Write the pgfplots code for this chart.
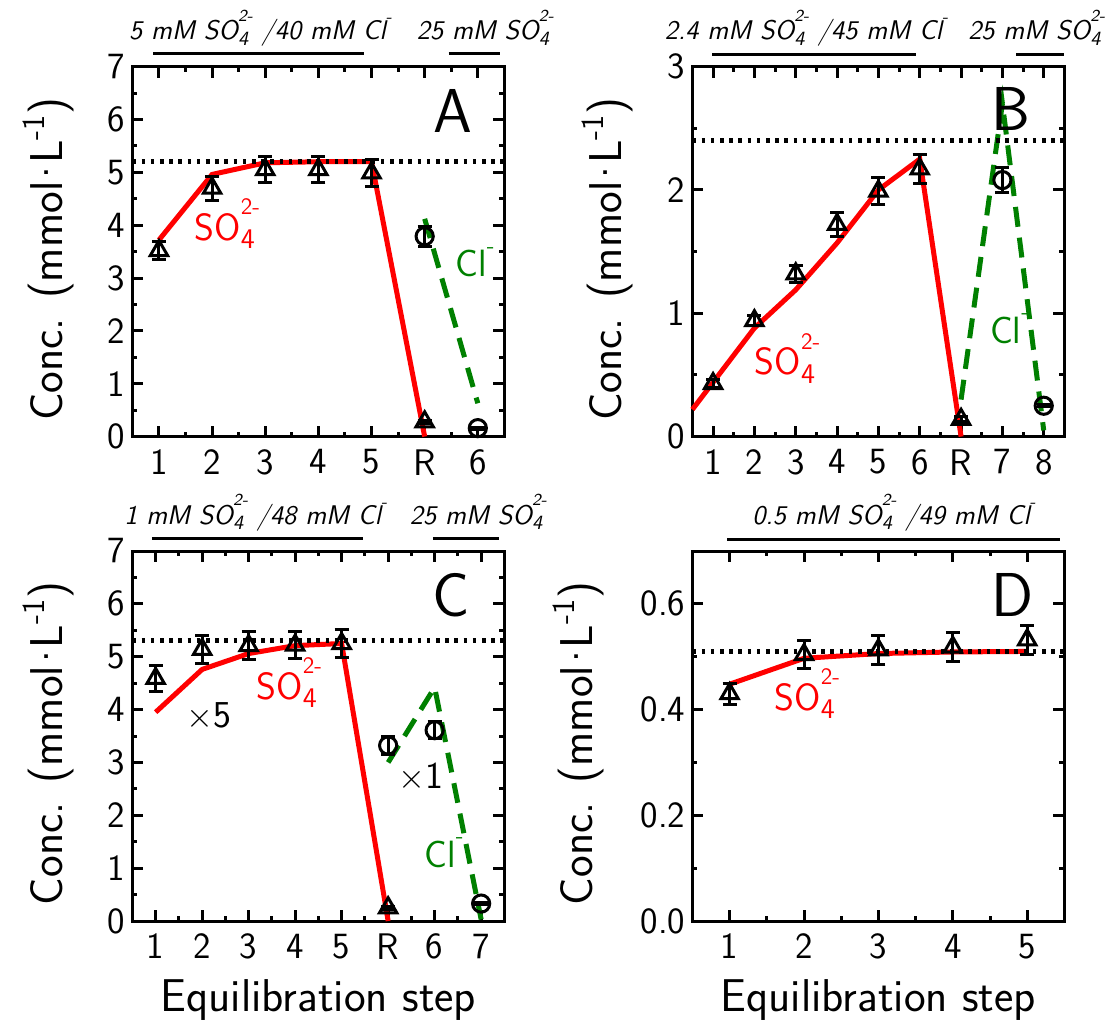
\documentclass[border=0pt]{standalone}
\usepackage{pgfplots}
\pgfplotsset{compat=1.18}
\renewcommand{\familydefault}{\sfdefault}
\definecolor{dgreen}{RGB}{0,128,0}
\makeatletter
\newcommand\relsz[2]{{\dimen@=\f@size pt\dimen@=#1\dimen@\fontsize{\strip@pt\dimen@}{\strip@pt\dimen@}\selectfont #2}}
\makeatother
\newcommand{\SOf}{SO\rlap{\raisebox{-0.22em}{\relsz{0.75}{4}}}\raisebox{0.68em}{\relsz{0.62}{2-}}}
\newcommand{\Clm}{Cl\raisebox{0.62em}{\relsz{0.62}{-}}}
\pgfplotsset{
  panel/.style={
    scale only axis, width=186pt, height=185pt,
    clip=false,
    axis line style={line width=1.5pt},
    tick style={line width=1.5pt, black},
    major tick length=5.5pt, minor tick length=2.5pt,
    tick align=inside,
    minor x tick num=1, minor y tick num=1,
    ticklabel style={font=\fontsize{18.5}{18.5}\selectfont},
    xticklabel style={yshift=-3pt},
    /pgf/number format/assume math mode=true,
    label style={font=\fontsize{23}{23}\selectfont},
    xlabel style={yshift=-3pt},
    ylabel={Conc. (mmol\kern-0.17em\textperiodcentered\kern-0.17em L\textsuperscript{-1})},
  },
  ylab/.style={ylabel style={at={(axis description cs:#1,0.48)}, anchor=center}},
  model/.style={red, line width=2.5pt},
  cl/.style={dgreen, line width=2.5pt, dash pattern=on 10pt off 5.5pt},
  ref/.style={black, line width=2.4pt, dash pattern=on 1.8pt off 2.8pt},
  tri/.style={black, only marks, mark=triangle, mark size=5pt, mark options={line width=1.5pt},
    error bars/.cd, y dir=both, y explicit, error bar style={line width=1.5pt},
    error mark options={rotate=90, mark size=3.5pt, line width=1.5pt}},
  circ/.style={black, only marks, mark=o, mark size=4.3pt, mark options={line width=1.5pt},
    error bars/.cd, y dir=both, y explicit, error bar style={line width=1.5pt},
    error mark options={rotate=90, mark size=3.5pt, line width=1.5pt}},
}
\tikzset{
  lab/.style={font=\fontsize{19}{19}\selectfont, anchor=base west},
  big/.style={font=\fontsize{31}{31}\selectfont, anchor=base east},
  ann/.style={font=\fontsize{13.5}{13.5}\selectfont\itshape, anchor=base},
  bar/.style={line width=1.5pt},
}
\begin{document}
\begin{tikzpicture}
\useasboundingbox (0,0) rectangle (554pt,514.5pt);
% Panel A
\begin{axis}[panel, ylab=-0.225, at={(66.2pt,296.2pt)}, anchor=south west,
  xmin=0.5, xmax=7.5, ymin=0, ymax=7,
  xtick={1,2,3,4,5,6,7}, xticklabels={1,2,3,4,5,R,6}, ytick={0,1,...,7}]
\addplot[model] coordinates {(1,3.72) (2,4.96) (3,5.18) (4,5.2) (5,5.2) (6,0)};
\addplot[cl] coordinates {(6,4.12) (7,0.63)};
\addplot[ref] coordinates {(0.5,5.2) (7.5,5.2)};
\addplot[tri] coordinates {(1,3.52) +- (0,0.17) (2,4.70) +- (0,0.23) (3,5.05) +- (0,0.25) (4,5.05) +- (0,0.25) (5,4.99) +- (0,0.25) (6,0.28) +- (0,0.03)};
\addplot[circ] coordinates {(6,3.79) +- (0,0.19) (7,0.16) +- (0,0.02)};
\node[lab, red] at (axis cs:1.54,3.71) {\SOf};
\node[lab, dgreen] at (axis cs:6.45,3.02) {\Clm};
\node[big] at (axis cs:7.02,5.75) {A};
\node[ann] at (axis cs:2.91,7.51) {5 mM \SOf\ /40 mM \Clm};
\node[ann] at (axis cs:7.14,7.51) {25 mM \SOf};
\draw[bar] (axis cs:0.89,7.24) -- (axis cs:4.85,7.24);
\draw[bar] (axis cs:6.45,7.24) -- (axis cs:7.41,7.24);
\end{axis}
% Panel B
\begin{axis}[panel, ylab=-0.229, at={(346.2pt,296.2pt)}, anchor=south west,
  xmin=0.5, xmax=9.5, ymin=0, ymax=3,
  xtick={1,...,9}, xticklabels={1,2,3,4,5,6,R,7,8}, ytick={0,1,2,3}]
\addplot[model] coordinates {(0.5,0.22) (1,0.44) (2,0.88) (3,1.19) (4,1.57) (5,2.0) (6,2.25) (7,0)};
\addplot[cl] coordinates {(7,0.30) (8,2.70) (9,0.05)};
\addplot[ref] coordinates {(0.5,2.40) (9.5,2.40)};
\addplot[tri] coordinates {(1,0.43) +- (0,0.03) (2,0.94) +- (0,0.04) (3,1.32) +- (0,0.07) (4,1.72) +- (0,0.095) (5,1.99) +- (0,0.11) (6,2.17) +- (0,0.115) (7,0.14) +- (0,0.02)};
\addplot[circ] coordinates {(8,2.08) +- (0,0.10) (9,0.25) +- (0,0.01)};
\node[lab, red] at (axis cs:1.84,0.50) {\SOf};
\node[lab, dgreen] at (axis cs:7.53,0.755) {\Clm};
\node[big] at (axis cs:8.85,2.48) {B};
\node[ann] at (axis cs:3.26,3.22) {2.4 mM \SOf\ /45 mM \Clm};
\node[ann] at (axis cs:8.83,3.22) {25 mM \SOf};
\draw[bar] (axis cs:0.98,3.1) -- (axis cs:5.92,3.1);
\draw[bar] (axis cs:8.33,3.1) -- (axis cs:9.49,3.1);
\end{axis}
% Panel C
\begin{axis}[panel, ylab=-0.225, at={(66.2pt,54pt)}, anchor=south west,
  xmin=0.5, xmax=8.5, ymin=0, ymax=7,
  xtick={1,...,8}, xticklabels={1,2,3,4,5,R,6,7}, ytick={0,1,...,7},
  xlabel={Equilibration step}]
\addplot[model] coordinates {(1,3.95) (2,4.76) (3,5.06) (4,5.21) (5,5.25) (6,0)};
\addplot[cl] coordinates {(6,3.0) (7,4.42) (8,0.03)};
\addplot[ref] coordinates {(0.5,5.3) (8.5,5.3)};
\addplot[tri] coordinates {(1,4.59) +- (0,0.24) (2,5.14) +- (0,0.26) (3,5.21) +- (0,0.26) (4,5.22) +- (0,0.26) (5,5.25) +- (0,0.27) (6,0.25) +- (0,0.03)};
\addplot[circ] coordinates {(6,3.32) +- (0,0.17) (7,3.61) +- (0,0.16) (8,0.33) +- (0,0.02)};
\node[lab, red] at (axis cs:3.02,4.19) {\SOf};
\node[lab, black] at (axis cs:1.52,3.66) {$\times$5};
\node[lab, black] at (axis cs:6.08,2.50) {$\times$1};
\node[lab, dgreen] at (axis cs:6.63,1.02) {\Clm};
\node[big] at (axis cs:7.9,5.77) {C};
\node[ann] at (axis cs:3.15,7.51) {1 mM \SOf\ /48 mM \Clm};
\node[ann] at (axis cs:7.94,7.51) {25 mM \SOf};
\draw[bar] (axis cs:0.92,7.24) -- (axis cs:5.46,7.24);
\draw[bar] (axis cs:6.96,7.24) -- (axis cs:8.39,7.24);
\end{axis}
% Panel D
\begin{axis}[panel, ylab=-0.307, at={(346.2pt,54pt)}, anchor=south west,
  xmin=0.5, xmax=5.5, ymin=0, ymax=0.7,
  xtick={1,...,5}, ytick={0,0.2,0.4,0.6},
  yticklabel style={/pgf/number format/.cd, fixed, fixed zerofill, precision=1},
  xlabel={Equilibration step}]
\addplot[model] coordinates {(1,0.448) (2,0.497) (3,0.506) (4,0.509) (5,0.51)};
\addplot[ref] coordinates {(0.5,0.51) (5.5,0.51)};
\addplot[tri] coordinates {(1,0.43) +- (0,0.02) (2,0.504) +- (0,0.026) (3,0.513) +- (0,0.027) (4,0.518) +- (0,0.027) (5,0.532) +- (0,0.027)};
\node[lab, red] at (axis cs:1.51,0.398) {\SOf};
\node[big] at (axis cs:5.18,0.577) {D};
\node[ann] at (axis cs:3.21,0.751) {0.5 mM \SOf\ /49 mM \Clm};
\draw[bar] (axis cs:0.97,0.722) -- (axis cs:5.44,0.722);
\end{axis}
\end{tikzpicture}
\end{document}
